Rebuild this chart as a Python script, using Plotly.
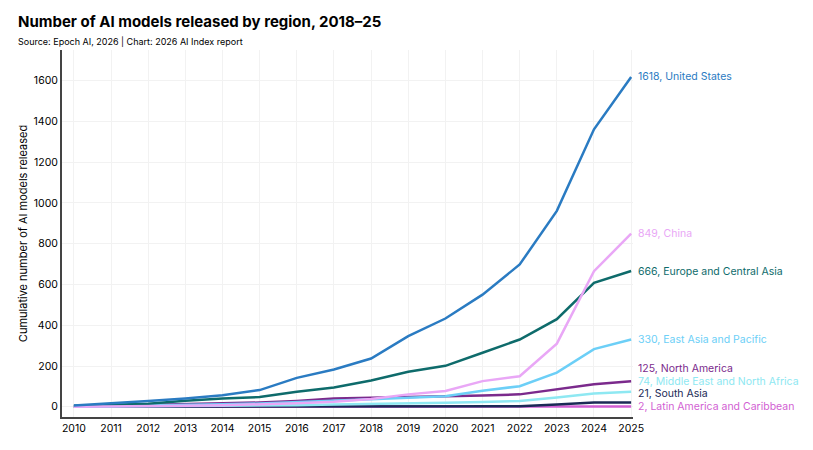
import plotly.graph_objects as go

years = list(range(2010, 2026))

united_states = [7, 16, 28, 41, 57, 82, 142, 183, 237, 347, 433, 550, 698, 961, 1361, 1618]
china = [0, 1, 3, 5, 8, 12, 17, 25, 38, 61, 78, 126, 150, 310, 665, 849]
europe_central_asia = [5, 10, 15, 30, 41, 48, 74, 95, 129, 172, 201, 265, 330, 430, 608, 666]
east_asia_pacific = [2, 4, 6, 9, 12, 16, 24, 32, 37, 44, 52, 79, 101, 168, 283, 330]
north_america = [2, 5, 8, 12, 17, 21, 29, 41, 44, 47, 51, 55, 61, 85, 111, 125]
middle_east_north_africa = [0, 1, 2, 3, 4, 6, 8, 11, 13, 16, 20, 24, 28, 46, 65, 74]
south_asia = [0, 0, 1, 1, 1, 1, 2, 2, 2, 3, 3, 3, 3, 11, 21, 21]
latin_america_caribbean = [0, 0, 0, 0, 0, 0, 0, 1, 1, 1, 1, 1, 1, 2, 2, 2]

series = [
    ("United States", united_states, "#2a7bc2"),
    ("China", china, "#e9a7f6"),
    ("Europe and Central Asia", europe_central_asia, "#0e6b6b"),
    ("East Asia and Pacific", east_asia_pacific, "#6ccff7"),
    ("North America", north_america, "#7b2a8c"),
    ("Middle East and North Africa", middle_east_north_africa, "#8ee8f2"),
    ("South Asia", south_asia, "#1b2a56"),
    ("Latin America and Caribbean", latin_america_caribbean, "#d25fd3"),
]

FONT = "Inter"
fig = go.Figure()

for name, vals, color in series[::-1]:
    fig.add_trace(go.Scatter(x=years, y=vals, mode="lines", name=name,
                             line=dict(color=color, width=2.5),
                             hoverinfo="skip", showlegend=False))

# label positions with simple de-overlap (min gap in data units)
gap = 62
order = sorted(series, key=lambda s: s[1][-1])
label_y = {}
prev = None
for name, vals, color in order:
    y = vals[-1]
    if prev is not None and y < prev + gap:
        y = prev + gap
    label_y[name] = y
    prev = y

for name, vals, color in series:
    fig.add_annotation(x=years[-1], y=label_y[name], xref="x", yref="y",
                       text=f"{vals[-1]}, {name}", showarrow=False,
                       xanchor="left", yanchor="middle", xshift=5,
                       font=dict(family=FONT, size=10.5, color=color))

fig.add_annotation(x=0, y=1, xref="paper", yref="paper", xanchor="left", yanchor="bottom",
                   text="<b>Number of AI models released by region, 2018–25</b>",
                   showarrow=False, xshift=-46, yshift=17,
                   font=dict(family=FONT, size=15, color="#000"))
fig.add_annotation(x=0, y=1, xref="paper", yref="paper", xanchor="left", yanchor="bottom",
                   text="Source: Epoch AI, 2026 | Chart: 2026 AI Index report",
                   showarrow=False, xshift=-46, yshift=1,
                   font=dict(family=FONT, size=9, color="#000"))

fig.update_layout(
    width=813, height=450,
    margin=dict(l=62, r=180, t=50, b=33),
    paper_bgcolor="white", plot_bgcolor="white",
    font=dict(family=FONT, size=10.5, color="#000"),
    xaxis=dict(range=[2009.68, 2025.05], tickmode="array", tickvals=years,
               ticktext=[str(y) for y in years], showgrid=True, gridcolor="#f2f2f2",
               gridwidth=1, showline=True, linecolor="#444", linewidth=2,
               zeroline=False, ticks="", tickfont=dict(size=10.5)),
    yaxis=dict(range=[-50, 1750], tickmode="array",
               tickvals=[0, 200, 400, 600, 800, 1000, 1200, 1400, 1600],
               showgrid=True, gridcolor="#f2f2f2", gridwidth=1,
               showline=True, linecolor="#444", linewidth=2, zeroline=False,
               ticks="", tickfont=dict(size=10.5),
               title=dict(text="Cumulative number of AI models released",
                          font=dict(size=11), standoff=4)),
)

fig.write_html("out.html", config={"displayModeBar": False},
               post_script="document.body.style.margin='0';")
